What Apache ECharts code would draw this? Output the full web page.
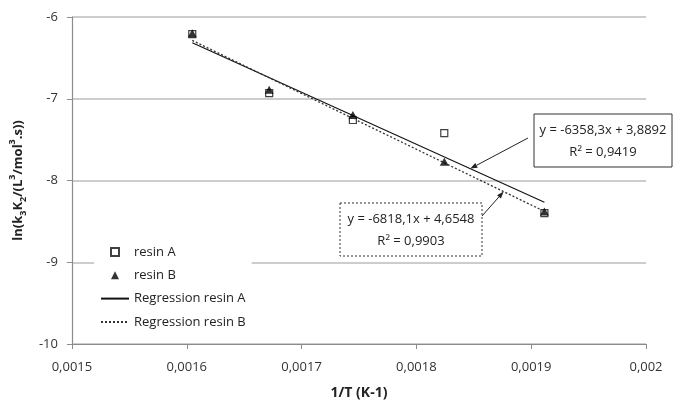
<!DOCTYPE html>
<html>
<head>
<meta charset="utf-8">
<script src="https://cdn.jsdelivr.net/npm/echarts@6/dist/echarts.min.js"></script>
<style>
  html, body { margin: 0; padding: 0; background: #fff; }
  #chart { width: 673px; height: 413px; }
</style>
</head>
<body>
<div id="chart"></div>
<script>
// Reciprocal temperatures (1/K) of the five runs
const invTemp = [0.0016048, 0.0016718, 0.0017447, 0.0018243, 0.0019115];
// ln(k3K2) for each resin
const resinA = [-6.21, -6.93, -7.26, -7.42, -8.40];
const resinB = [-6.20, -6.89, -7.20, -7.77, -8.38];
// Linear trend lines: y = slope * x + intercept
const slopes = [-6358.3, -6818.1];
const intercepts = [3.8892, 4.6548];
const rSquared = [0.9419, 0.9903];
// x positions where the equation callouts touch their trend lines
const calloutAt = [0.001847, 0.001876];

const FONT = '"Open Sans", "Liberation Sans", sans-serif';

function comma(v, digits) {
  return v.toFixed(digits).replace('.', ',');
}
function tickText(v) {
  return String(parseFloat(v.toFixed(5))).replace('.', ',');
}
function trend(i, x) {
  return slopes[i] * x + intercepts[i];
}
function trendLine(i) {
  const x0 = invTemp[0], x1 = invTemp[invTemp.length - 1];
  return [[x0, trend(i, x0)], [x1, trend(i, x1)]];
}
function equationText(i) {
  const b = intercepts[i];
  return 'y = ' + comma(slopes[i], 1) + 'x ' + (b < 0 ? '- ' : '+ ') + comma(Math.abs(b), 4);
}

const chart = echarts.init(document.getElementById('chart'), null, { renderer: 'canvas' });

const titleBase = { fontFamily: FONT, fontSize: 13, fontWeight: 'bold', color: '#222', lineHeight: 20 };
const hiddenMarker = { opacity: 0, color: 'rgba(0,0,0,0)', borderColor: 'rgba(0,0,0,0)', borderWidth: 0 };

const option = {
  backgroundColor: '#fff',
  animation: false,
  textStyle: { fontFamily: FONT },
  grid: { left: 67, right: 27, top: 17, bottom: 69 },
  legend: {
    orient: 'vertical',
    left: 94,
    top: 238,
    padding: [6, 6, 6, 6],
    backgroundColor: '#fff',
    itemWidth: 28,
    itemHeight: 8,
    itemGap: 7.3,
    textStyle: { fontFamily: FONT, fontSize: 13, color: '#222', lineHeight: 16 },
    data: [
      { name: 'resin A', icon: 'path://M0,0h10v10h-10z' },
      { name: 'resin B', icon: 'path://M5,0L10,10L0,10z' },
      { name: 'Regression resin A', itemStyle: hiddenMarker },
      { name: 'Regression resin B', itemStyle: hiddenMarker }
    ]
  },
  xAxis: {
    type: 'value',
    min: 0.0015,
    max: 0.002,
    interval: 0.0001,
    name: '1/T (K-1)',
    nameLocation: 'middle',
    nameGap: 42,
    nameTextStyle: { fontFamily: FONT, fontSize: 14, fontWeight: 'bold', color: '#222' },
    axisLine: { lineStyle: { color: '#8c8c8c', width: 1.2 } },
    axisTick: { show: true, length: 5, inside: false, lineStyle: { color: '#8c8c8c' } },
    axisLabel: { fontFamily: FONT, fontSize: 13, color: '#333', margin: 17, formatter: tickText },
    splitLine: { show: false }
  },
  yAxis: {
    type: 'value',
    min: -10,
    max: -6,
    interval: 1,
    name: '{b|ln(k}{sub|3}{b|K}{sub|2}{b|/(L}{sup|3}{b|/mol}{sup|3}{b|.s))}',
    nameLocation: 'middle',
    nameGap: 30,
    nameRotate: 90,
    nameTextStyle: {
      fontFamily: FONT, fontSize: 13, fontWeight: 'bold', color: '#222',
      rich: {
        b: titleBase,
        sub: { fontFamily: FONT, fontSize: 9, fontWeight: 'bold', color: '#222', lineHeight: 12, verticalAlign: 'bottom' },
        sup: { fontFamily: FONT, fontSize: 9, fontWeight: 'bold', color: '#222', lineHeight: 12, verticalAlign: 'top' }
      }
    },
    axisLine: { show: true, lineStyle: { color: '#8c8c8c', width: 1.2 } },
    axisTick: { show: true, length: 5, inside: false, lineStyle: { color: '#8c8c8c' } },
    axisLabel: { fontFamily: FONT, fontSize: 13, color: '#333', margin: 14, formatter: v => String(v) },
    splitLine: { show: true, lineStyle: { color: '#bdbdbd', width: 1.5 } }
  },
  series: [
    {
      name: 'Regression resin A',
      type: 'line',
      data: trendLine(0),
      symbol: 'none',
      z: 2,
      lineStyle: { color: '#111', width: 1.1, type: 'solid' },
      itemStyle: { color: '#111' }
    },
    {
      name: 'Regression resin B',
      type: 'line',
      data: trendLine(1),
      symbol: 'none',
      z: 2,
      lineStyle: { color: '#333', width: 1.3, type: [2, 2] },
      itemStyle: { color: '#333' }
    },
    {
      name: 'resin A',
      type: 'scatter',
      data: invTemp.map((x, i) => [x, resinA[i]]),
      symbol: 'rect',
      symbolSize: 7,
      z: 3,
      itemStyle: { color: '#fff', borderColor: '#111', borderWidth: 1.2 }
    },
    {
      name: 'resin B',
      type: 'scatter',
      data: invTemp.map((x, i) => [x, resinB[i]]),
      symbol: 'triangle',
      symbolSize: [9, 8],
      z: 4,
      itemStyle: { color: '#000' }
    }
  ]
};

chart.setOption(option);

// Equation callouts with arrows pointing at their trend lines
function arrow(x1, y1, x2, y2) {
  const ang = Math.atan2(y2 - y1, x2 - x1);
  const len = 7, half = 2.6;
  const bx = x2 - len * Math.cos(ang), by = y2 - len * Math.sin(ang);
  const px = -Math.sin(ang) * half, py = Math.cos(ang) * half;
  return [
    { type: 'line', z: 100, shape: { x1: x1, y1: y1, x2: bx, y2: by }, style: { stroke: '#222', lineWidth: 1 } },
    { type: 'polygon', z: 100, shape: { points: [[x2, y2], [bx + px, by + py], [bx - px, by - py]] }, style: { fill: '#222' } }
  ];
}

function callout(i, box, lineDash, arrowStart) {
  const tip = chart.convertToPixel({ gridIndex: 0 }, [calloutAt[i], trend(i, calloutAt[i])]);
  const cx = box.x + box.w / 2;
  return [
    { type: 'rect', z: 100, shape: { x: box.x, y: box.y, width: box.w, height: box.h },
      style: { fill: '#fff', stroke: '#333', lineWidth: 1, lineDash: lineDash } },
    { type: 'text', z: 101, style: { text: equationText(i), x: cx, y: box.y + 16, align: 'center', verticalAlign: 'middle',
      font: '13px ' + FONT, fill: '#222' } },
    { type: 'text', z: 101, style: { text: 'R\u00B2 = ' + comma(rSquared[i], 4), x: cx, y: box.y + 38, align: 'center', verticalAlign: 'middle',
      font: '13px ' + FONT, fill: '#222' } }
  ].concat(arrow(arrowStart[0], arrowStart[1], tip[0], tip[1]));
}

chart.setOption({
  graphic: {
    elements: []
      .concat(callout(0, { x: 534, y: 114, w: 138, h: 53 }, null, [528, 138]))
      .concat(callout(1, { x: 340, y: 203, w: 142, h: 53 }, [2, 2], [482, 216]))
  }
});
</script>
</body>
</html>
